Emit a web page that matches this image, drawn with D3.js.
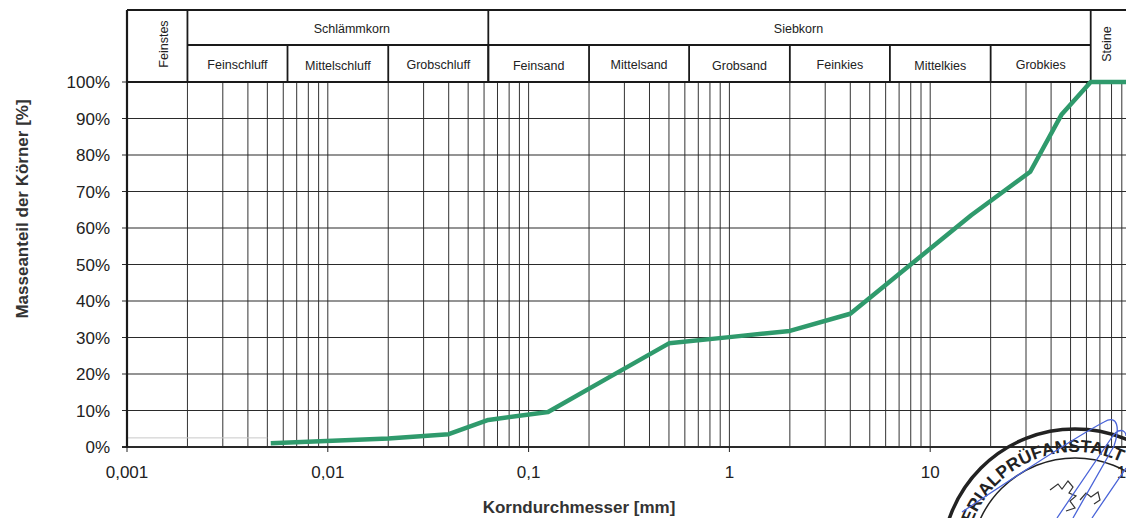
<!DOCTYPE html>
<html>
<head>
<meta charset="utf-8">
<script src="https://cdn.jsdelivr.net/npm/d3@7"></script>
<style>
  body { margin: 0; background: #fff; }
  svg { display: block; }
  .tick-label { font-family: "Liberation Sans", Arial, sans-serif; font-size: 17px; fill: #222; }
  .axis-title { font-family: "Liberation Sans", Arial, sans-serif; font-size: 17px; font-weight: bold; fill: #333; }
  .head { font-family: "Liberation Sans Narrow", "Liberation Sans", Arial, sans-serif; font-size: 12.5px; fill: #222; }
</style>
</head>
<body>
<div id="chart"></div>
<script>
// 1: DATA
// sieve curve: grain size [mm] and mass passing [%]
const diameters = [0.0052, 0.02, 0.04, 0.063, 0.125, 0.25, 0.5, 1, 2, 4, 8, 16, 31.5, 45, 63, 100];
const passing   = [1.0, 2.3, 3.5, 7.4, 9.6, 19.0, 28.4, 30.1, 31.8, 36.5, 50.0, 63.5, 75.4, 91.0, 100, 100];

// grain size fractions (DIN 4022 / 18123)
const mainGroups = ["Feinstes", "Schlämmkorn", "Siebkorn", "Steine"];
const mainBounds = [[0.001, 0.002], [0.002, 0.063], [0.063, 63], [63, 100]];
const subGroups = ["Feinschluff", "Mittelschluff", "Grobschluff", "Feinsand", "Mittelsand",
                   "Grobsand", "Feinkies", "Mittelkies", "Grobkies"];
const subBounds = [0.002, 0.0063, 0.02, 0.063, 0.2, 0.63, 2, 6.3, 20, 63];

const xTickValues = [0.001, 0.01, 0.1, 1, 10, 100];
const xTickLabels = ["0,001", "0,01", "0,1", "1", "10", "100"];
const yTickValues = [0, 10, 20, 30, 40, 50, 60, 70, 80, 90, 100];

// 2: SIZES
const W = 1126, H = 518;
const plot = { left: 127, right: 1131, top: 82, bottom: 447 };
const headTop = 10, headMid = 45;

const svg = d3.select("#chart").append("svg")
    .attr("width", W)
    .attr("height", H);

svg.append("rect").attr("width", W).attr("height", H).attr("fill", "#fff");

// 3: SCALES
const x = d3.scaleLog().domain([0.001, 100]).range([plot.left, plot.right]);
const y = d3.scaleLinear().domain([0, 100]).range([plot.bottom, plot.top]);

// 4: GRID
const grid = svg.append("g");

grid.selectAll(".vline")
    .data(x.ticks())
    .enter().append("line")
    .attr("x1", d => x(d)).attr("x2", d => x(d))
    .attr("y1", plot.top).attr("y2", plot.bottom)
    .attr("stroke", "#333")
    .attr("stroke-width", 1);

// faint line at the low end
grid.append("line")
    .attr("x1", x(0.001)).attr("x2", x(0.005))
    .attr("y1", y(2.5)).attr("y2", y(2.5))
    .attr("stroke", "#c8c8c8");

grid.selectAll(".hline")
    .data(yTickValues)
    .enter().append("line")
    .attr("x1", plot.left - 5).attr("x2", W)
    .attr("y1", d => y(d)).attr("y2", d => y(d))
    .attr("stroke", "#2a2a2a")
    .attr("stroke-width", d => d === 0 ? 2.2 : 1.1);

// left frame
svg.append("line")
    .attr("x1", plot.left).attr("x2", plot.left)
    .attr("y1", headTop).attr("y2", plot.bottom + 1)
    .attr("stroke", "#1a1a1a").attr("stroke-width", 2.2);

// small ticks below x axis
svg.selectAll(".xtick")
    .data(xTickValues)
    .enter().append("line")
    .attr("x1", d => x(d)).attr("x2", d => x(d))
    .attr("y1", plot.bottom).attr("y2", plot.bottom + 5)
    .attr("stroke", "#222");

// 5: HEADER
const head = svg.append("g");

head.append("line")
    .attr("x1", plot.left).attr("x2", W)
    .attr("y1", headTop).attr("y2", headTop)
    .attr("stroke", "#1a1a1a").attr("stroke-width", 2);
head.append("line")
    .attr("x1", x(0.002)).attr("x2", x(63))
    .attr("y1", headMid).attr("y2", headMid)
    .attr("stroke", "#1a1a1a").attr("stroke-width", 1.8);
head.append("line")
    .attr("x1", plot.left).attr("x2", W)
    .attr("y1", plot.top).attr("y2", plot.top)
    .attr("stroke", "#1a1a1a").attr("stroke-width", 2);

// main group borders
head.selectAll(".mb")
    .data([0.002, 0.063, 63])
    .enter().append("line")
    .attr("x1", d => x(d)).attr("x2", d => x(d))
    .attr("y1", headTop).attr("y2", plot.top)
    .attr("stroke", "#1a1a1a").attr("stroke-width", 1.8);

// sub group borders
head.selectAll(".sb")
    .data(subBounds.slice(1, -1))
    .enter().append("line")
    .attr("x1", d => x(d)).attr("x2", d => x(d))
    .attr("y1", headMid).attr("y2", plot.top)
    .attr("stroke", "#1a1a1a").attr("stroke-width", 1.8);

// main labels
mainGroups.forEach((name, i) => {
    const [a, b] = mainBounds[i];
    if (name === "Feinstes" || name === "Steine") {
        const cx = name === "Feinstes" ? x(a) + 41 : x(a) + 20;
        head.append("text")
            .attr("class", "head")
            .attr("transform", `translate(${cx},${(headTop + plot.top) / 2 - 2}) rotate(-90)`)
            .attr("text-anchor", "middle")
            .text(name);
    } else {
        const cx = Math.sqrt(a * b);
        head.append("text")
            .attr("class", "head")
            .attr("x", x(cx) + (name === "Siebkorn" ? 9 : 14))
            .attr("y", (headTop + headMid) / 2 + 5)
            .attr("text-anchor", "middle")
            .text(name);
    }
});

// sub labels
subGroups.forEach((name, i) => {
    const a = subBounds[i], b = subBounds[i + 1];
    head.append("text")
        .attr("class", "head")
        .attr("x", x(Math.sqrt(a * b)))
        .attr("y", (headMid + plot.top) / 2 + 5 + (i % 2 === 1 ? 1 : 0))
        .attr("text-anchor", "middle")
        .text(name);
});

// 6: CURVE
const pts = diameters.map((d, i) => ({ d: d, p: passing[i] }));
const line = d3.line()
    .x(d => x(d.d))
    .y(d => y(d.p));

svg.append("path")
    .datum(pts)
    .attr("fill", "none")
    .attr("stroke", "#2f9a6c")
    .attr("stroke-width", 4.5)
    .attr("stroke-linejoin", "round")
    .attr("d", line);

// 7: AXIS LABELS
svg.selectAll(".ylab")
    .data(yTickValues)
    .enter().append("text")
    .attr("class", "tick-label")
    .attr("x", 110)
    .attr("y", d => y(d) + 6)
    .attr("text-anchor", "end")
    .text(d => d + "%");

svg.selectAll(".xlab")
    .data(xTickValues)
    .enter().append("text")
    .attr("class", "tick-label")
    .attr("x", d => x(d))
    .attr("y", plot.bottom + 31)
    .attr("text-anchor", "middle")
    .text((d, i) => xTickLabels[i]);

svg.append("text")
    .attr("class", "axis-title")
    .attr("x", 579)
    .attr("y", 513)
    .attr("text-anchor", "middle")
    .text("Korndurchmesser [mm]");

svg.append("text")
    .attr("class", "axis-title")
    .attr("transform", "translate(28,209) rotate(-90)")
    .attr("text-anchor", "middle")
    .text("Masseanteil der Körner [%]");

// 8: STAMP (decoration)
const stamp = svg.append("g");
const sc = { x: 1075, y: 562 };
stamp.append("circle")
    .attr("cx", sc.x).attr("cy", sc.y).attr("r", 133)
    .attr("fill", "none").attr("stroke", "#222").attr("stroke-width", 3.5);
stamp.append("circle")
    .attr("cx", sc.x).attr("cy", sc.y).attr("r", 104)
    .attr("fill", "none").attr("stroke", "#222").attr("stroke-width", 1.5);

const r0 = 110, a0 = 181 * Math.PI / 180, a1 = a0 + Math.PI * 0.97;
stamp.append("path")
    .attr("id", "stampArc")
    .attr("fill", "none")
    .attr("d", `M${sc.x + r0 * Math.cos(a0)},${sc.y + r0 * Math.sin(a0)} A${r0},${r0} 0 0 1 ${sc.x + r0 * Math.cos(a1)},${sc.y + r0 * Math.sin(a1)}`);
stamp.append("text")
    .attr("font-family", "'Liberation Sans', Arial, sans-serif")
    .attr("font-weight", "bold")
    .attr("font-size", 17.5)
    .attr("letter-spacing", 0.2)
    .attr("fill", "#222")
    .append("textPath")
    .attr("href", "#stampArc")
    .text("MATERIALPRÜFANSTALT");

// emblem hint
stamp.append("path")
    .attr("fill", "none").attr("stroke", "#333").attr("stroke-width", 1.2)
    .attr("d", "M1050,490 l8,-6 l4,5 l6,-8 l5,6 l-4,6 l7,3 l-6,5 l5,7 l-9,3 M1080,500 l6,-7 l5,4 l7,-5 l2,8 l-6,4");

// signature
stamp.append("path")
    .attr("fill", "none").attr("stroke", "#4a64d8").attr("stroke-width", 1.3)
    .attr("d", "M962,512 C1010,480 1070,440 1104,422 C1118,414 1120,428 1114,446 L1073,518 M1057,518 L1110,440 C1118,426 1126,430 1126,436 M1092,518 L1126,468");
</script>
</body>
</html>
